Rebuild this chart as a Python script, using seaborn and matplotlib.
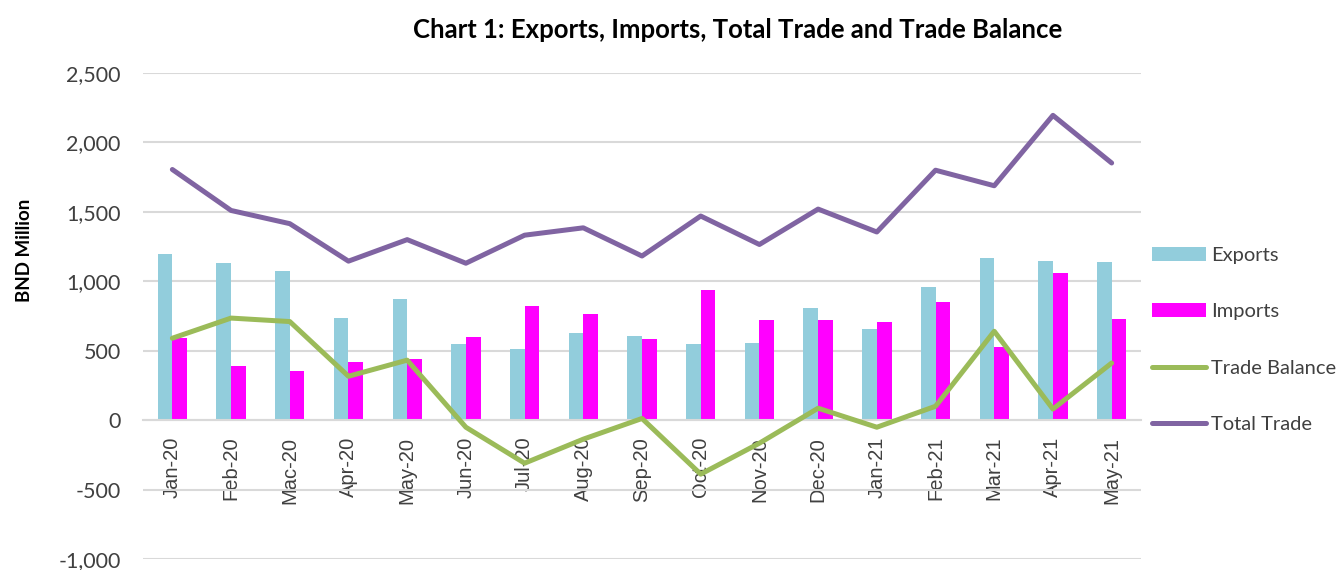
import numpy as np
import pandas as pd
import matplotlib
matplotlib.use("Agg")
import matplotlib.pyplot as plt
import seaborn as sns
from matplotlib.patches import Patch
from matplotlib.lines import Line2D

months = ["Jan-20", "Feb-20", "Mac-20", "Apr-20", "May-20", "Jun-20", "Jul-20", "Aug-20",
          "Sep-20", "Oct-20", "Nov-20", "Dec-20", "Jan-21", "Feb-21", "Mar-21", "Apr-21", "May-21"]
exports = [1200, 1130, 1073, 734, 871, 547, 511, 626, 605, 547, 554, 806, 655, 958, 1166, 1145, 1138]
imports = [590, 389, 353, 418, 439, 598, 821, 763, 583, 936, 720, 720, 706, 850, 526, 1058, 727]
trade_balance = [590, 735, 710, 316, 432, -51, -310, -137, 12, -389, -166, 86, -51, 100, 640, 80, 411]
total_trade = [1805, 1510, 1415, 1145, 1300, 1130, 1332, 1385, 1182, 1470, 1265, 1520, 1355, 1800, 1688, 2195, 1852]
yticks = [-1000, -500, 0, 500, 1000, 1500, 2000, 2500]

c_exp = "#92CDDC"
c_imp = "#FF00FF"
c_bal = "#9BBB59"
c_tot = "#8064A2"
grid_c = "#D9D9D9"
txt_c = "#404040"

sns.set_theme(style="white")
plt.rcParams["font.family"] = ["Lato", "DejaVu Sans"]

df = pd.DataFrame({"Month": months * 2,
                   "Value": exports + imports,
                   "Series": ["Exports"] * len(months) + ["Imports"] * len(months)})

fig = plt.figure(figsize=(13.38, 5.70), dpi=100)
ax = fig.add_axes([143 / 1338, 1 - 559 / 570, 998 / 1338, (559 - 73) / 570])

sns.barplot(data=df, x="Month", y="Value", hue="Series", order=months,
            palette={"Exports": c_exp, "Imports": c_imp}, saturation=1,
            width=0.5, ax=ax, legend=False, errorbar=None, linewidth=0)
xs = np.arange(len(months))
sns.lineplot(x=xs, y=trade_balance, color=c_bal, linewidth=3.6, ax=ax, zorder=4)
sns.lineplot(x=xs, y=total_trade, color=c_tot, linewidth=3.6, ax=ax, zorder=4)

ax.set_xlim(-0.5, len(months) - 0.5)
ax.set_ylim(-1000, 2500)
ax.set_yticks(yticks)
ax.set_yticklabels([f"{v:,}" for v in yticks], fontsize=15.5, color=txt_c)
ax.yaxis.grid(True, color=grid_c, linewidth=1.5)
ax.set_axisbelow(True)
for s in ["top", "right", "left"]:
    ax.spines[s].set_visible(False)
ax.spines["bottom"].set_position(("data", 0))
ax.spines["bottom"].set_color(grid_c)
ax.spines["bottom"].set_linewidth(1.5)
ax.set_xticks(xs)
ax.set_xticklabels(months, rotation=90, fontsize=14.5, color=txt_c,
                   family=["Liberation Sans", "DejaVu Sans"])
ax.tick_params(axis="x", length=0, pad=12)
ax.tick_params(axis="y", length=0, pad=16)
ax.set_xlabel("")
ax.set_ylabel("BND Million", fontsize=13.5, fontweight="bold", color="black")
ax.yaxis.set_label_coords(-0.11, 0.636)

fig.text(738 / 1338, 1 - 30 / 570, "Chart 1: Exports, Imports, Total Trade and Trade Balance",
         ha="center", va="center", fontsize=18.5, fontweight="bold", color="black")

handles = [Patch(facecolor=c_exp, edgecolor="none"),
           Patch(facecolor=c_imp, edgecolor="none"),
           Line2D([], [], color=c_bal, linewidth=3.6, solid_capstyle="round"),
           Line2D([], [], color=c_tot, linewidth=3.6, solid_capstyle="round")]
labels = ["Exports", "Imports", "Trade Balance", "Total Trade"]
leg = fig.legend(handles, labels, loc="center left", bbox_to_anchor=(1152 / 1338, 1 - 340 / 570),
                 frameon=False, fontsize=14.5, handlelength=2.7, handleheight=0.7,
                 handletextpad=0.25, labelspacing=1.95, borderaxespad=0, borderpad=0)
for t in leg.get_texts():
    t.set_color(txt_c)

fig.savefig("out.png", dpi=100)
